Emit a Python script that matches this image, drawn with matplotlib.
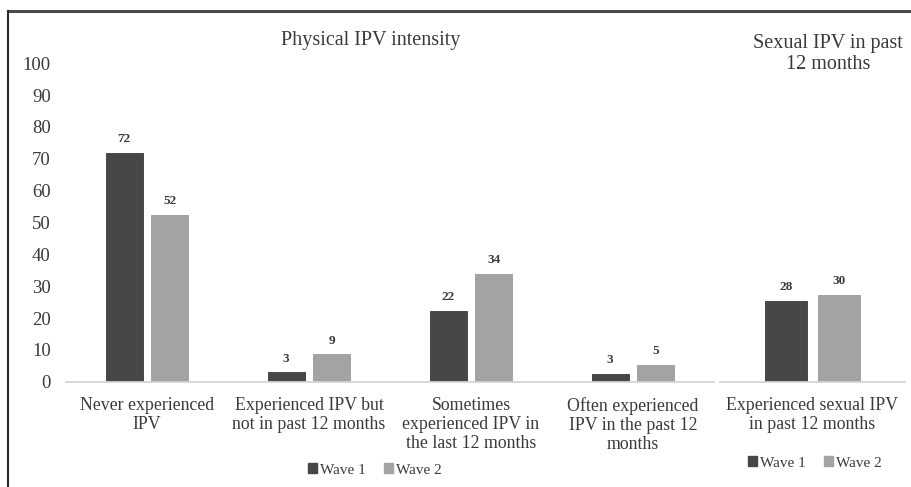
import matplotlib
matplotlib.use("Agg")
import matplotlib.pyplot as plt
from matplotlib.patches import Patch
from matplotlib.lines import Line2D
import numpy as np

plt.rcParams['font.family'] = ['Liberation Serif', 'DejaVu Serif']

phys_categories = ["Never experienced\nIPV", "Experienced IPV but\nnot in past 12 months",
                   "Sometimes\nexperienced IPV in\nthe last 12 months",
                   "Often experienced\nIPV in the past 12\nmonths"]
phys_wave1 = [72, 3, 22, 3]
phys_wave2 = [52, 9, 34, 5]
phys_wave1_plot = [71.8, 3.0, 22.2, 2.5]
phys_wave2_plot = [52.4, 8.6, 33.9, 5.3]

sex_categories = ["Experienced sexual IPV\nin past 12 months"]
sex_wave1 = [28]
sex_wave2 = [30]

series_names = ["Wave 1", "Wave 2"]
yticks = [0, 10, 20, 30, 40, 50, 60, 70, 80, 90, 100]

c1 = "#474747"
c2 = "#a3a3a3"
txt = "#3a3a3a"
axc = "#d4d4d4"

W, H = 911, 487
fig = plt.figure(figsize=(W/100, H/100), dpi=100)

def fx(px): return px / W
def fy(py): return 1 - py / H

ax1 = fig.add_axes([fx(66), fy(381.7), fx(714) - fx(66), fy(63.3) - fy(381.7)])
ax2 = fig.add_axes([fx(720), fy(381.7), fx(905) - fx(720), fy(63.3) - fy(381.7)])

bw = 0.227
off = 0.141

def style(ax):
    for s in ["top", "right", "left"]:
        ax.spines[s].set_visible(False)
    ax.spines["bottom"].set_color(axc)
    ax.spines["bottom"].set_linewidth(1.3)
    ax.tick_params(axis="both", length=0, colors=txt)
    ax.patch.set_alpha(0)

x = np.arange(len(phys_categories))
b1 = ax1.bar(x - off, phys_wave1_plot, bw, color=c1, edgecolor="#3a3a3a", linewidth=0.6)
b2 = ax1.bar(x + off, phys_wave2_plot, bw, color=c2, edgecolor="#9a9a9a", linewidth=0.6)
for rects, labs in ((b1, phys_wave1), (b2, phys_wave2)):
    for r, l in zip(rects, labs):
        ax1.annotate(str(l), (r.get_x() + r.get_width()/2, r.get_height()),
                     xytext=(0, 5.5), textcoords="offset points", ha="center", va="bottom",
                     fontsize=9.5, color=txt, fontweight="bold")
ax1.set_xlim(-0.5, len(phys_categories) - 0.5)
ax1.set_ylim(0, 100)
ax1.set_yticks(yticks)
ax1.set_yticklabels([str(t) for t in yticks], fontsize=13.5)
ax1.set_xticks(x)
ax1.set_xticklabels(phys_categories, fontsize=12.8, linespacing=1.17)
ax1.tick_params(axis="x", pad=11)
ax1.tick_params(axis="y", pad=11)
style(ax1)

x2 = np.arange(len(sex_categories))
s1 = ax2.bar(x2 - 0.144, sex_wave1, 0.225, color=c1, edgecolor="#3a3a3a", linewidth=0.6)
s2 = ax2.bar(x2 + 0.144, sex_wave2, 0.225, color=c2, edgecolor="#9a9a9a", linewidth=0.6)
for rects, labs in ((s1, sex_wave1), (s2, sex_wave2)):
    for r, l in zip(rects, labs):
        ax2.annotate(str(l), (r.get_x() + r.get_width()/2, r.get_height()),
                     xytext=(0, 5.5), textcoords="offset points", ha="center", va="bottom",
                     fontsize=9.5, color=txt, fontweight="bold")
ax2.set_xlim(-0.5, 0.5)
ax2.set_ylim(0, 110)
ax2.set_yticks([])
ax2.set_xticks(x2)
ax2.set_xticklabels(sex_categories, fontsize=12.8, linespacing=1.17)
ax2.tick_params(axis="x", pad=11)
style(ax2)

fig.text(fx(371), fy(40), "Physical IPV intensity", ha="center", va="center",
         fontsize=14.5, color=txt)
fig.text(fx(828), fy(54), "Sexual IPV in past\n12 months", ha="center", va="center",
         fontsize=14.5, color=txt, linespacing=1.2)

handles = [Patch(facecolor=c1, edgecolor=c1), Patch(facecolor=c2, edgecolor=c2)]
fig.legend(handles, series_names, loc="center", bbox_to_anchor=(fx(375), fy(470)),
           ncol=2, frameon=False, fontsize=11, handlelength=0.6, handleheight=0.6,
           handletextpad=0.2, columnspacing=1.2, labelcolor=txt)
fig.legend(handles, series_names, loc="center", bbox_to_anchor=(fx(815), fy(463)),
           ncol=2, frameon=False, fontsize=11, handlelength=0.6, handleheight=0.6,
           handletextpad=0.2, columnspacing=1.2, labelcolor=txt)

# frame lines (top and left)
fig.add_artist(Line2D([fx(8), 1], [fy(11), fy(11)], color="#4a4a4a", linewidth=2.2))
fig.add_artist(Line2D([fx(8), fx(8)], [fy(11), 0], color="#2a2a2a", linewidth=1.5))

fig.savefig("out.png", dpi=100)
